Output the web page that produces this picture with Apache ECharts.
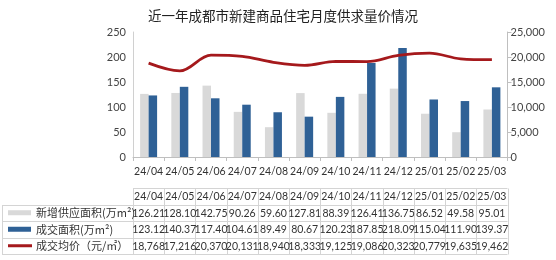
<!DOCTYPE html>
<html><head><meta charset="utf-8">
<script src="https://cdn.jsdelivr.net/npm/echarts@6/dist/echarts.min.js"></script>
<style>html,body{margin:0;padding:0;background:#fff}#c{width:556px;height:260px}</style>
</head><body><div id="c"></div>
<script>
const categories = ['24/04','24/05','24/06','24/07','24/08','24/09','24/10','24/11','24/12','25/01','25/02','25/03'];
const supplyArea = [126.21,128.10,142.75,90.26,59.60,127.81,88.39,126.41,136.75,86.52,49.58,95.01];
const dealArea = [123.12,140.37,117.40,104.61,89.49,80.67,120.23,187.85,218.09,115.04,111.90,139.37];
const dealPrice = [18768,17216,20370,20131,18940,18333,19125,19086,20323,20779,19635,19462];
const seriesNames = ['新增供应面积(万m²)','成交面积(万m²)','成交均价（元/㎡）'];
const titleText = '近一年成都市新建商品住宅月度供求量价情况';

const FONT = 'Lato, "Noto Sans CJK SC", sans-serif';
const C_GRAY = '#d9d9d9', C_BLUE = '#2f6196', C_RED = '#a5191c';
const chart = echarts.init(document.getElementById('c'), null, {renderer:'canvas'});
const GL = 133, GR = 507.5, GT = 32, GB = 157;
chart.setOption({
  animation:false,
  title:{text:titleText,left:143,top:4,textStyle:{fontSize:13.5,fontWeight:'normal',color:'#222',fontFamily:'"Noto Sans CJK SC", sans-serif'}},
  grid:{left:GL,right:556-GR,top:GT,bottom:260-GB,containLabel:false},
  xAxis:{type:'category',data:categories,
    axisLine:{lineStyle:{color:'#bfbfbf'}},
    axisTick:{show:true,alignWithLabel:false,length:4,lineStyle:{color:'#bfbfbf'}},
    axisLabel:{color:'#333',fontSize:10.5,fontFamily:FONT,margin:9,interval:0}},
  yAxis:[
    {type:'value',min:0,max:250,interval:50,splitLine:{show:false},
     axisLine:{show:true,lineStyle:{color:'#d0d0d0'}},axisTick:{show:false},
     axisLabel:{color:'#444',fontSize:11,fontFamily:FONT,margin:7}},
    {type:'value',min:0,max:25000,interval:5000,splitLine:{show:false},position:'right',
     axisLine:{show:true,lineStyle:{color:'#bfbfbf'}},axisTick:{show:true,length:4,lineStyle:{color:'#bfbfbf'}},
     axisLabel:{color:'#444',fontSize:11,fontFamily:FONT,margin:3,
       formatter:v=>v.toLocaleString('en-US')}}
  ],
  series:[
    {name:seriesNames[0],type:'bar',data:supplyArea,itemStyle:{color:C_GRAY},barWidth:8.5,barGap:'0%'},
    {name:seriesNames[1],type:'bar',data:dealArea,itemStyle:{color:C_BLUE},barWidth:8.5,barGap:'0%'},
    {name:seriesNames[2],type:'line',yAxisIndex:1,data:dealPrice,smooth:0.35,showSymbol:false,symbol:'none',
     lineStyle:{color:C_RED,width:2.8},z:5}
  ]
});

// data table
const rows = [supplyArea.map(v=>v.toFixed(2)), dealArea.map(v=>v.toFixed(2)), dealPrice.map(v=>v.toLocaleString('en-US'))];
const els = [];
const TT = 188, RH = 16.5, LX = 2;
const colW = (GR-GL)/categories.length;
const lineC = '#d4d4d4';
for(let r=0;r<=4;r++){
  const y = Math.round(TT + r*RH)+0.5;
  const x1 = r===0 ? GL : LX;
  els.push({type:'line',shape:{x1:x1,y1:y,x2:GR,y2:y},style:{stroke:lineC,lineWidth:1},silent:true});
}
for(let c=0;c<=categories.length;c++){
  const x = Math.round(GL + c*colW)+0.5;
  els.push({type:'line',shape:{x1:x,y1:Math.round(TT)+0.5,x2:x,y2:Math.round(TT+4*RH)+0.5},style:{stroke:lineC,lineWidth:1},silent:true});
}
els.push({type:'line',shape:{x1:LX+0.5,y1:Math.round(TT+RH)+0.5,x2:LX+0.5,y2:Math.round(TT+4*RH)+0.5},style:{stroke:lineC,lineWidth:1},silent:true});
categories.forEach((cat,i)=>{
  const cx = chart.convertToPixel({xAxisIndex:0}, i);
  els.push({type:'text',style:{text:cat,x:cx,y:TT+RH/2+0.5,align:'center',verticalAlign:'middle',fontSize:10.5,fontFamily:FONT,fill:'#333'},silent:true});
  rows.forEach((row,r)=>{
    els.push({type:'text',style:{text:row[i],x:cx,y:TT+(r+1.5)*RH+0.5,align:'center',verticalAlign:'middle',fontSize:10.5,fontFamily:FONT,fill:'#333'},silent:true});
  });
});
seriesNames.forEach((n,r)=>{
  const cy = TT+(r+1.5)*RH;
  if(r<2){
    els.push({type:'rect',shape:{x:8,y:cy-2.5,width:23,height:5},style:{fill:r===0?C_GRAY:C_BLUE},silent:true});
  } else {
    els.push({type:'line',shape:{x1:8,y1:cy,x2:32,y2:cy},style:{stroke:C_RED,lineWidth:3},silent:true});
  }
  els.push({type:'text',style:{text:n,x:36,y:cy+0.5,align:'left',verticalAlign:'middle',fontSize:11,fontFamily:'"Noto Sans CJK SC", sans-serif',fill:'#333'},silent:true});
});
chart.setOption({graphic:{elements:els}});
</script></body></html>
